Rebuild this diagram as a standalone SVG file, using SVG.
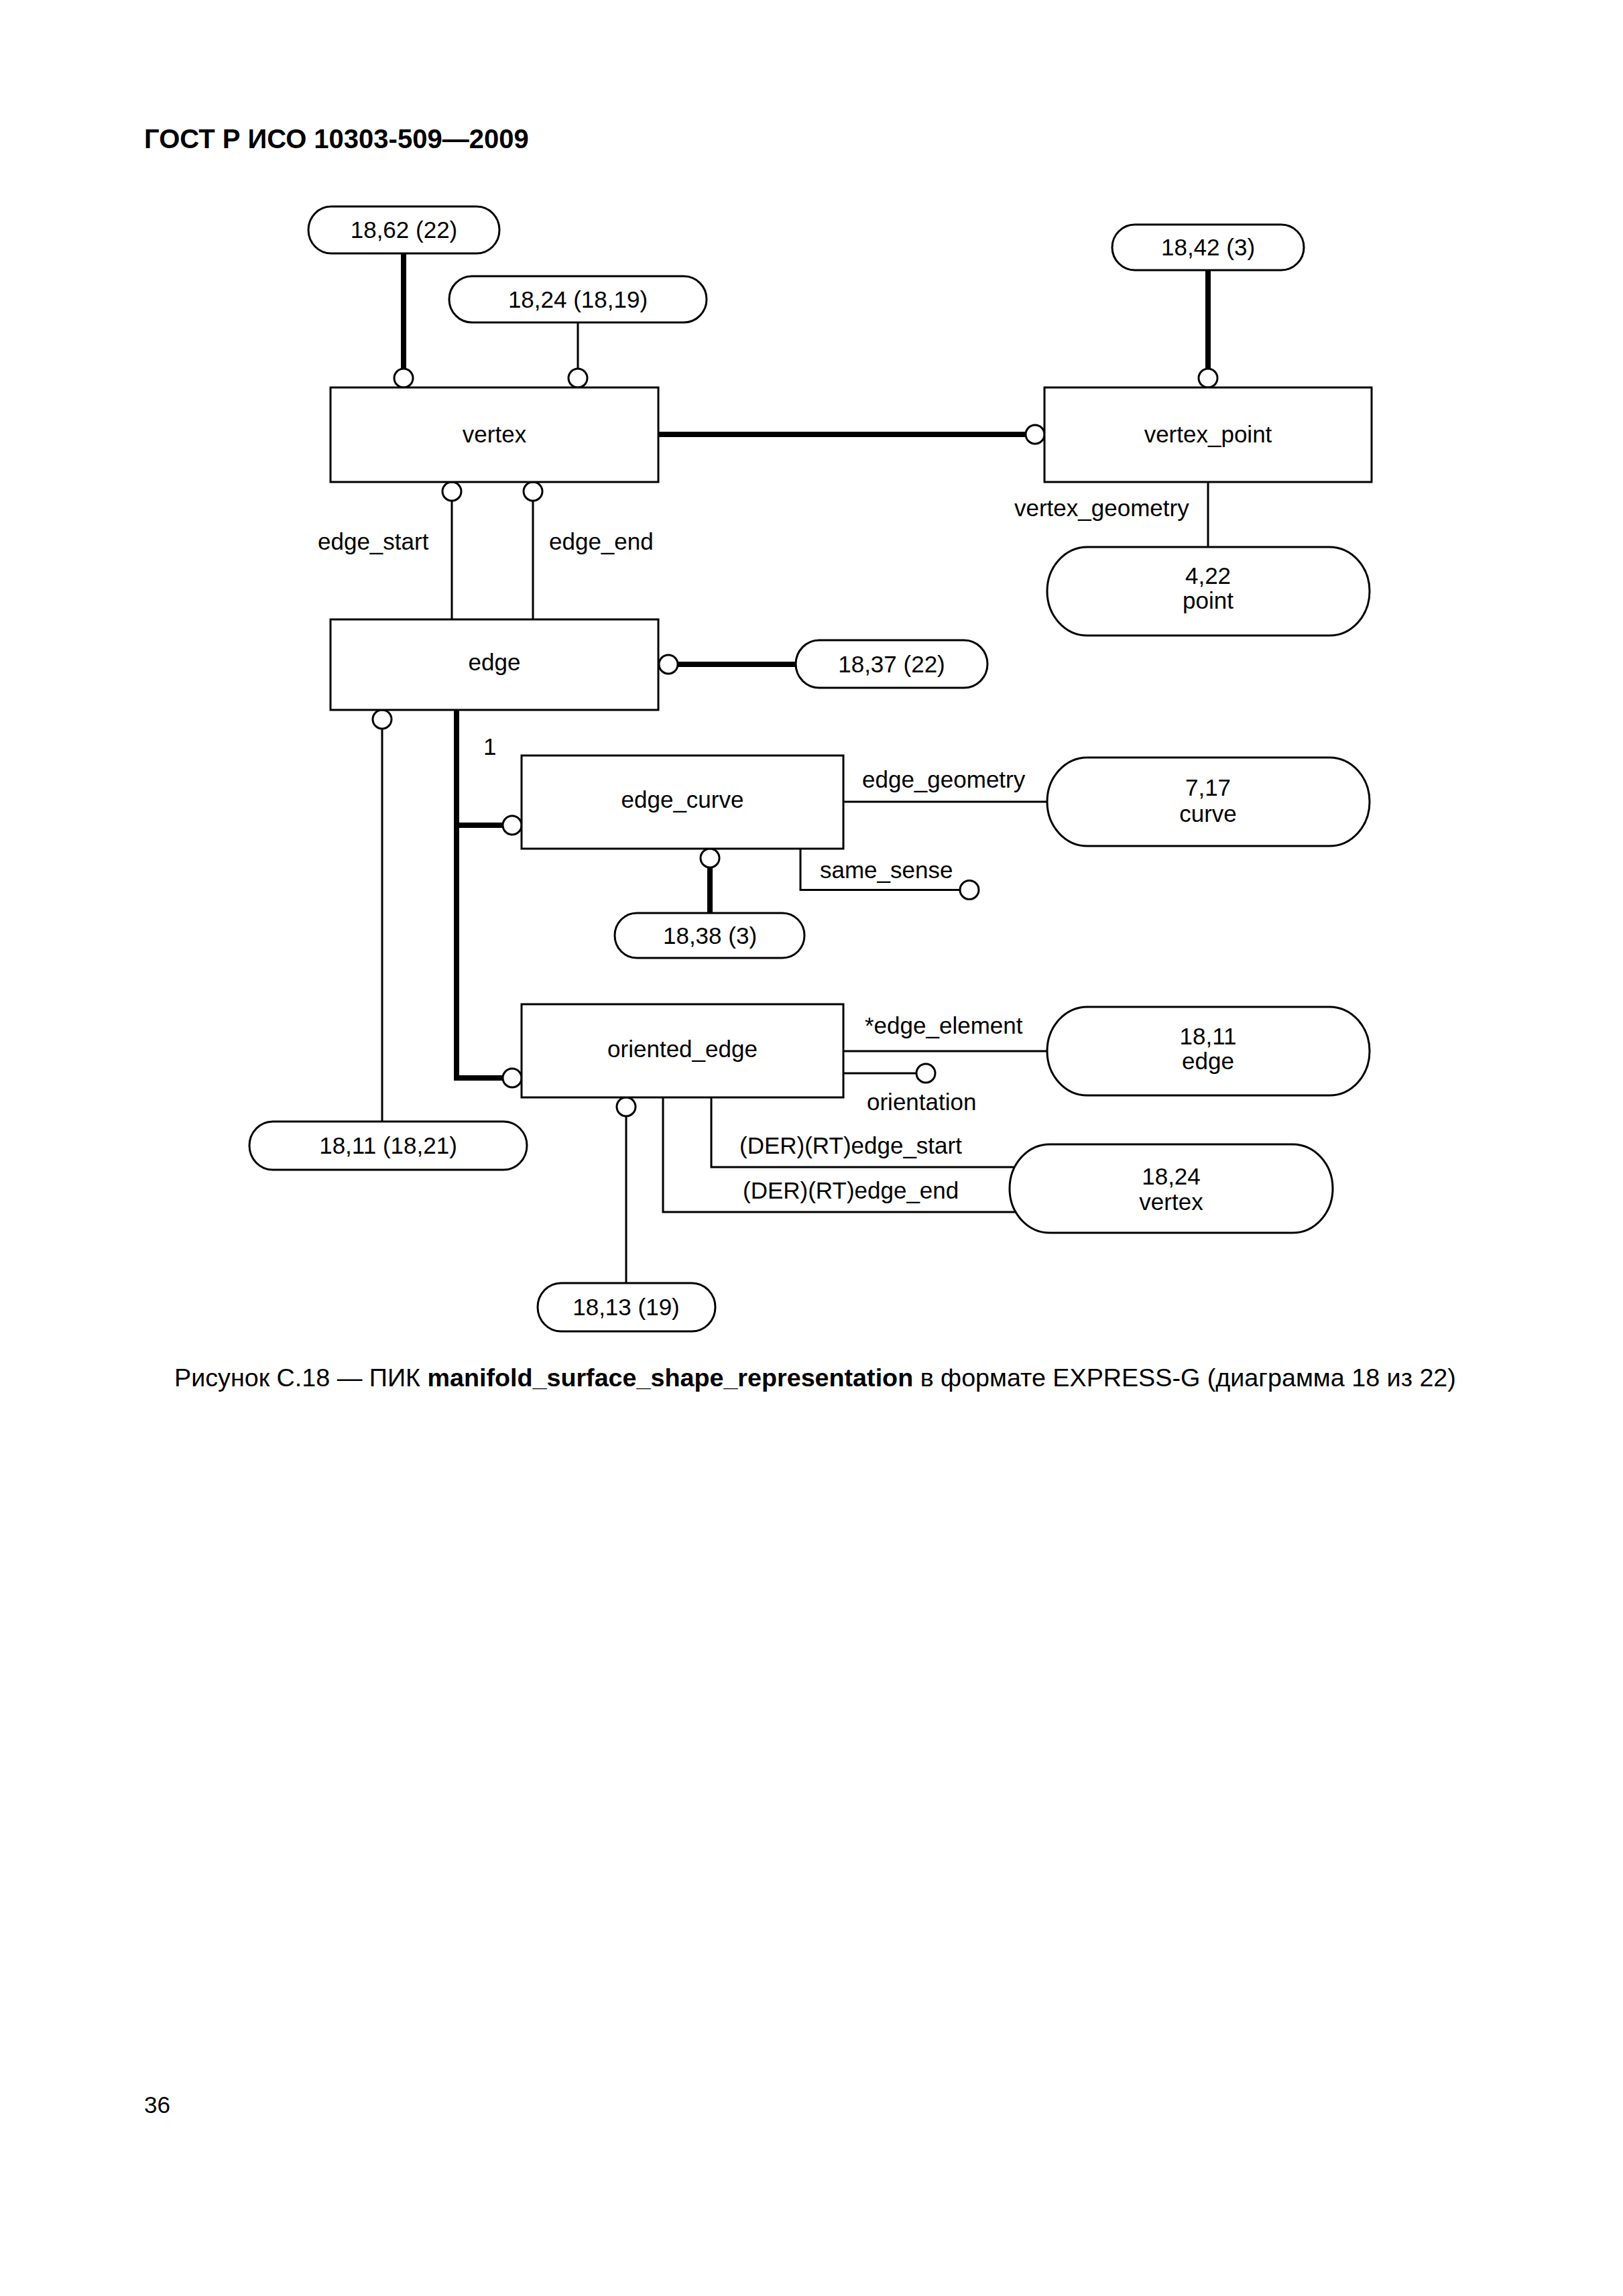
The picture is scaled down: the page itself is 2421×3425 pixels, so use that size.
<svg xmlns="http://www.w3.org/2000/svg" width="2421" height="3425" viewBox="0 0 2421 3425">
<style>
text{font-family:"Liberation Sans",Arial,sans-serif;font-size:35px;fill:#000}
.c{text-anchor:middle}
.hdr{font-size:40px;font-weight:bold}
.cap{font-size:37.7px}
.b{font-weight:bold}
.box{fill:#fff;stroke:#000;stroke-width:3}
.pill{fill:#fff;stroke:#000;stroke-width:3}
.thin{fill:none;stroke:#000;stroke-width:3}
.thick{fill:none;stroke:#000;stroke-width:8}
.o{fill:#fff;stroke:#000;stroke-width:3}
</style>
<rect width="2421" height="3425" fill="#fff"/>
<text class="hdr" x="215" y="221">ГОСТ Р ИСО 10303-509—2009</text>

<g id="connectors">
<line class="thick" x1="602" y1="378" x2="602" y2="550"/>
<circle class="o" cx="602" cy="564" r="14"/>
<line class="thin" x1="862" y1="481" x2="862" y2="550"/>
<circle class="o" cx="862" cy="564" r="14"/>
<line class="thick" x1="1802" y1="403" x2="1802" y2="550"/>
<circle class="o" cx="1802" cy="564" r="14"/>
<line class="thick" x1="982" y1="648" x2="1530" y2="648"/>
<circle class="o" cx="1544" cy="648" r="14"/>
<line class="thin" x1="674" y1="747" x2="674" y2="924"/>
<circle class="o" cx="674" cy="733" r="14"/>
<line class="thin" x1="795" y1="747" x2="795" y2="924"/>
<circle class="o" cx="795" cy="733" r="14"/>
<line class="thin" x1="1802" y1="719" x2="1802" y2="816"/>
<line class="thick" x1="1011" y1="991" x2="1187" y2="991"/>
<circle class="o" cx="997" cy="991" r="14"/>
<line class="thin" x1="570" y1="1087" x2="570" y2="1673"/>
<circle class="o" cx="570" cy="1073" r="14"/>
<path class="thick" d="M681 1059 V1608 H750"/>
<line class="thick" x1="681" y1="1231" x2="750" y2="1231"/>
<circle class="o" cx="764" cy="1231" r="14"/>
<circle class="o" cx="764" cy="1608" r="14"/>
<line class="thick" x1="1059" y1="1294" x2="1059" y2="1362"/>
<circle class="o" cx="1059" cy="1280" r="14"/>
<path class="thin" d="M1194 1266 V1327.5 H1432"/>
<circle class="o" cx="1446" cy="1327.5" r="14"/>
<line class="thin" x1="1258" y1="1196" x2="1562" y2="1196"/>
<line class="thin" x1="1258" y1="1568" x2="1562" y2="1568"/>
<line class="thin" x1="1258" y1="1601" x2="1367" y2="1601"/>
<circle class="o" cx="1381" cy="1601" r="14"/>
<line class="thin" x1="934" y1="1665" x2="934" y2="1914"/>
<circle class="o" cx="934" cy="1651" r="14"/>
<path class="thin" d="M1061 1637 V1741 H1514"/>
<path class="thin" d="M989 1637 V1808 H1516"/>
<text x="474" y="820">edge_start</text>
<text x="819" y="820">edge_end</text>
<text x="1513" y="770">vertex_geometry</text>
<text x="721" y="1126">1</text>
<text x="1286" y="1175">edge_geometry</text>
<text x="1223" y="1310">same_sense</text>
<text x="1290" y="1542">*edge_element</text>
<text x="1293" y="1656">orientation</text>
<text x="1103" y="1721">(DER)(RT)edge_start</text>
<text x="1108" y="1788">(DER)(RT)edge_end</text>
</g>

<g id="n_18_62">
<rect class="pill" x="460" y="308" width="285" height="70" rx="34" ry="35"/>
<text class="c" x="602.5" y="355">18,62 (22)</text>
</g>
<g id="n_18_24_18_19">
<rect class="pill" x="670" y="412" width="384" height="69" rx="34" ry="34.5"/>
<text class="c" x="862" y="459">18,24 (18,19)</text>
</g>
<g id="n_18_42">
<rect class="pill" x="1659" y="335" width="286" height="68" rx="34" ry="34"/>
<text class="c" x="1802" y="381">18,42 (3)</text>
</g>
<g id="n_vertex">
<rect class="box" x="493" y="578" width="489" height="141"/>
<text class="c" x="737.5" y="660">vertex</text>
</g>
<g id="n_vertex_point">
<rect class="box" x="1558" y="578" width="488" height="141"/>
<text class="c" x="1802" y="660">vertex_point</text>
</g>
<g id="n_point">
<rect class="pill" x="1562" y="816" width="481" height="132" rx="60" ry="66"/>
<text class="c" x="1802" y="871">4,22</text>
<text class="c" x="1802" y="908">point</text>
</g>
<g id="n_edge">
<rect class="box" x="493" y="924" width="489" height="135"/>
<text class="c" x="737.5" y="1000">edge</text>
</g>
<g id="n_18_37">
<rect class="pill" x="1187" y="955" width="286" height="71" rx="35" ry="35.5"/>
<text class="c" x="1330" y="1003">18,37 (22)</text>
</g>
<g id="n_edge_curve">
<rect class="box" x="778" y="1127" width="480" height="139"/>
<text class="c" x="1018" y="1205">edge_curve</text>
</g>
<g id="n_curve">
<rect class="pill" x="1562" y="1130" width="481" height="132" rx="60" ry="66"/>
<text class="c" x="1802" y="1187">7,17</text>
<text class="c" x="1802" y="1226">curve</text>
</g>
<g id="n_18_38">
<rect class="pill" x="917" y="1362" width="283" height="67" rx="33" ry="33.5"/>
<text class="c" x="1059" y="1408">18,38 (3)</text>
</g>
<g id="n_oriented_edge">
<rect class="box" x="778" y="1498" width="480" height="139"/>
<text class="c" x="1018" y="1577">oriented_edge</text>
</g>
<g id="n_edge_ref">
<rect class="pill" x="1562" y="1502" width="481" height="132" rx="60" ry="66"/>
<text class="c" x="1802" y="1558">18,11</text>
<text class="c" x="1802" y="1595">edge</text>
</g>
<g id="n_vertex_ref">
<rect class="pill" x="1506" y="1707" width="482" height="132" rx="60" ry="66"/>
<text class="c" x="1747" y="1767">18,24</text>
<text class="c" x="1747" y="1805">vertex</text>
</g>
<g id="n_18_11_18_21">
<rect class="pill" x="372" y="1673" width="414" height="72" rx="35" ry="36"/>
<text class="c" x="579" y="1721">18,11 (18,21)</text>
</g>
<g id="n_18_13">
<rect class="pill" x="802" y="1914" width="265" height="72" rx="35" ry="36"/>
<text class="c" x="934" y="1962">18,13 (19)</text>
</g>

<text class="cap" x="260" y="2068">Рисунок С.18 — ПИК <tspan class="b">manifold_surface_shape_representation</tspan> в формате EXPRESS-G (диаграмма 18 из 22)</text>
<text x="215" y="3152">36</text>
</svg>
